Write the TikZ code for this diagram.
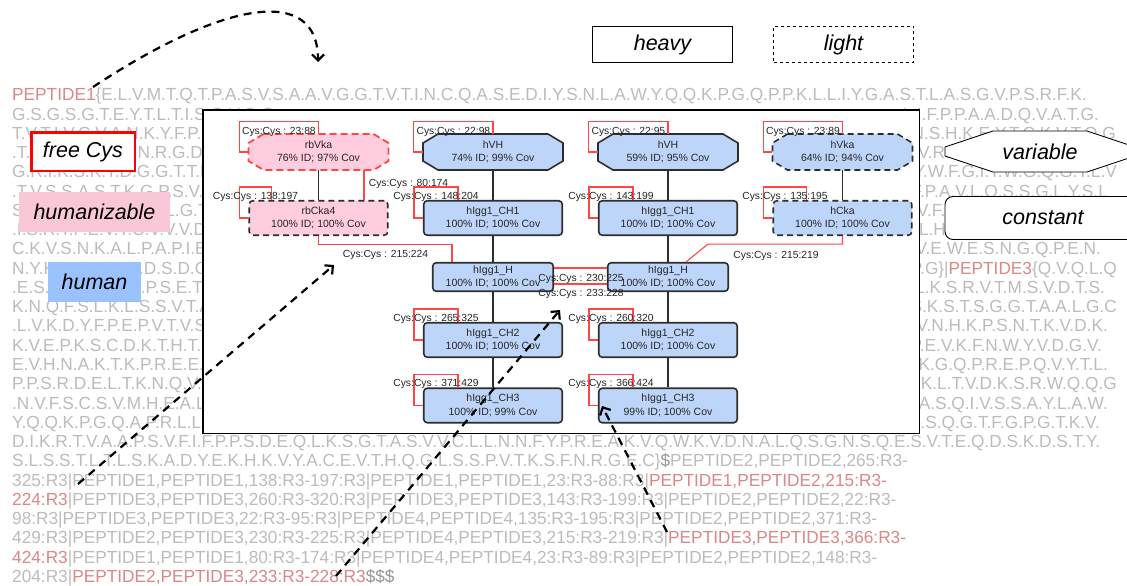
\documentclass[tikz,border=0pt]{standalone}
\usepackage{fontspec}
\setmainfont{Liberation Sans}
\newfontfamily\seqfont{Liberation Sans}[FakeStretch=0.986]
\usetikzlibrary{arrows.meta}
\definecolor{seqgray}{RGB}{188,188,188}
\definecolor{seqred}{RGB}{218,136,136}
\definecolor{dollar}{RGB}{150,150,150}
\definecolor{pinkfill}{RGB}{255,205,221}
\definecolor{bluefill}{RGB}{190,213,250}
\definecolor{legpink}{RGB}{249,199,214}
\definecolor{legblue}{RGB}{153,194,255}
\definecolor{cysred}{RGB}{255,70,70}
\definecolor{edgegray}{RGB}{45,45,45}
\tikzset{
  seq/.style={anchor=base west, inner sep=0pt, text=seqgray, font=\seqfont\fontsize{17.5}{19}\selectfont},
  seqr/.style={seq, anchor=base east},
  dom/.style={draw=edgegray, line width=1.6pt, rounded corners=3.5pt, inner sep=0pt, align=center, text=black!85, font=\fontsize{10.5}{13.3}\selectfont, minimum width=138.5pt, minimum height=34.5pt},
  hinge/.style={dom, minimum width=120.5pt, minimum height=28.5pt},
  domdash/.style={dash pattern=on 6pt off 4pt},
  octa/.style n args={3}{inner sep=0pt, align=center, path picture={
     \path[#1] ([shift={(#2+1.5pt,-1.5pt)}]path picture bounding box.north west)
       -- ([shift={(-#2-1.5pt,-1.5pt)}]path picture bounding box.north east)
       -- ([shift={(-1.5pt,-#3-1.5pt)}]path picture bounding box.north east)
       -- ([shift={(-1.5pt,#3+1.5pt)}]path picture bounding box.south east)
       -- ([shift={(-#2-1.5pt,1.5pt)}]path picture bounding box.south east)
       -- ([shift={(#2+1.5pt,1.5pt)}]path picture bounding box.south west)
       -- ([shift={(1.5pt,#3+1.5pt)}]path picture bounding box.south west)
       -- ([shift={(1.5pt,-#3-1.5pt)}]path picture bounding box.north west)
       -- cycle;}},
  vtext/.style={minimum width=143pt, minimum height=39pt, text=black!85, font=\fontsize{10.5}{13.3}\selectfont},
  voctB/.style={octa={fill=bluefill, draw=edgegray, line width=1.6pt}{15pt}{9pt}, vtext},
  voctBd/.style={octa={fill=bluefill, draw=edgegray, line width=1.6pt, dash pattern=on 6pt off 4pt}{15pt}{9pt}, vtext},
  voctP/.style={octa={fill=pinkfill, draw=cysred, line width=1.8pt, dash pattern=on 7pt off 4pt}{15pt}{9pt}, vtext},
  cys/.style={draw=cysred, line width=1.1pt},
  cyslab/.style={inner sep=0pt, text=black!85, font=\fontsize{10.3}{12}\selectfont},
  chainline/.style={draw=edgegray, line width=1.6pt},
  darrow/.style={draw=black, line width=2.2pt, dash pattern=on 8pt off 6pt, -{Straight Barb[length=6pt,width=12pt]}},
  leg/.style={inner sep=0pt, font=\itshape\fontsize{21.5}{24}\selectfont}
}
\newcommand\cysloopR[3]{\draw[cys] ([xshift=#2pt]#1.north west) -- ++(0,-13) -| node[pos=0.25,cyslab,yshift=-10pt]{Cys:Cys : #3} ([xshift=-9pt]#1.west) -- (#1.west);}
\newcommand\cysloopO[2]{\draw[cys] ([yshift=-1.5pt]#1.north) -- ++(0,-12) -| node[pos=0.25,cyslab,yshift=-9.7pt]{Cys:Cys : #2} ([xshift=-7.5pt]#1.west) -- ([xshift=1.5pt]#1.west);}
\begin{document}
\begin{tikzpicture}[x=1pt,y=-1pt]
\useasboundingbox (0,0) rectangle (1127,586);
\fill[white] (0,0) rectangle (1127,586);
% ---------- sequence text ----------
\node[seq] (s1) at (12,100.7) {\textcolor{seqred}{PEPTIDE1}\{E.L.V.M.T.Q.T.P.A.S.V.S.A.A.V.G.G.T.V.T.I.N.C.Q.A.S.E.D.I.Y.S.N.L.A.W.Y.Q.Q.K.P.G.Q.P.P.K.L.L.I.Y.G.A.S.T.L.A.S.G.V.P.S.R.F.K.};
\node[seq] (s2a) at (12,120.0) {G.S.G.S.G.T.E.Y.T.L.T.I.S.G.V.Q.C};
\node[seqr] (s2b) at (1099,120.0) {L.I.F.P.P.A.A.D.Q.V.A.T.G.};
\node[seq] (s3a) at (12,139.2) {T.V.T.I.V.C.V.A.N.K.Y.F.P.D.V.T};
\node[seqr] (s3b) at (1116,139.2) {Y.N.S.H.K.E.Y.T.C.K.V.T.Q.G};
\node[seq] (s4a) at (12,158.5) {.T.T.S.V.V.Q.S.F.N.R.G.D.C};
\node[seq] (s4b) at (913,158.5) {.V.R.Q.A.P.G.K};
\node[seq] (s5a) at (12,177.8) {G.R.I.K.S.K.T.D.G.G.T.T.D.Y};
\node[seqr] (s5b) at (1117,177.8) {Y.W.F.G.I.T.W.G.Q.G.T.L.V};
\node[seq] (s6a) at (12,197.1) {.T.V.S.S.A.S.T.K.G.P.S.V.F.P};
\node[seqr] (s6b) at (1108,197.1) {F.P.A.V.L.Q.S.S.G.L.Y.S.L};
\node[seq] (s7a) at (12,216.3) {S.S.V.V.T.V.P.S.S.S.L.G.T.Q.T};
\node[seq] (s7b) at (917,216.3) {V.F.L.F.P.P.K};
\node[seq] (s8a) at (12,235.6) {.I.S.R.T.P.E.V.T.C.V.V.V.D.V.S};
\node[seq] (s8b) at (914,235.6) {.L.H.Q.D.W};
\node[seq] (s9a) at (12,254.9) {C.K.V.S.N.K.A.L.P.A.P.I.E.K.T};
\node[seqr] (s9b) at (1101,254.9) {A.V.E.W.E.S.N.G.Q.P.E.N.};
\node[seq] (s10a) at (12,274.1) {N.Y.K.T.T.P.P.V.L.D.S.D.G.S.F};
\node[seqr] (s10b) at (1117,274.1) {P.G\}|\textcolor{seqred}{PEPTIDE3}\{Q.V.Q.L.Q};
\node[seq] (s11a) at (12,293.4) {.E.S.G.P.G.L.V.K.P.S.E.T.L.S};
\node[seqr] (s11b) at (1105,293.4) {L.K.S.R.V.T.M.S.V.D.T.S.};
\node[seq] (s12a) at (12,312.7) {K.N.Q.F.S.L.K.L.S.S.V.T.A.A.D};
\node[seqr] (s12b) at (1117,312.7) {S.K.S.T.S.G.G.T.A.A.L.G.C};
\node[seq] (s13a) at (12,331.9) {.L.V.K.D.Y.F.P.E.P.V.T.V.S.W};
\node[seqr] (s13b) at (1108,331.9) {N.V.N.H.K.P.S.N.T.K.V.D.K.};
\node[seq] (s14a) at (12,351.2) {K.V.E.P.K.S.C.D.K.T.H.T.C.P.P};
\node[seqr] (s14b) at (1102,351.2) {P.E.V.K.F.N.W.Y.V.D.G.V.};
\node[seq] (s15a) at (12,370.5) {E.V.H.N.A.K.T.K.P.R.E.E.Q.Y.N};
\node[seqr] (s15b) at (1108,370.5) {A.K.G.Q.P.R.E.P.Q.V.Y.T.L.};
\node[seq] (s16a) at (12,389.8) {P.P.S.R.D.E.L.T.K.N.Q.V.S.L.T};
\node[seqr] (s16b) at (1117,389.8) {S.K.L.T.V.D.K.S.R.W.Q.Q.G};
\node[seq] (s17a) at (12,409.0) {.N.V.F.S.C.S.V.M.H.E.A.L.H.N};
\node[seqr] (s17b) at (1108,409.0) {R.A.S.Q.I.V.S.S.A.Y.L.A.W.};
\node[seq] (s18a) at (12,428.3) {Y.Q.Q.K.P.G.Q.A.P.R.L.L.I.Y.G};
\node[seqr] (s18b) at (1100,428.3) {C.S.S.Q.G.T.F.G.P.G.T.K.V.};
\node[seq] (s19) at (12,447.6) {D.I.K.R.T.V.A.A.P.S.V.F.I.F.P.P.S.D.E.Q.L.K.S.G.T.A.S.V.V.C.L.L.N.N.F.Y.P.R.E.A.K.V.Q.W.K.V.D.N.A.L.Q.S.G.N.S.Q.E.S.V.T.E.Q.D.S.K.D.S.T.Y.};
\node[seq] (s20) at (12,466.8) {S.L.S.S.T.L.T.L.S.K.A.D.Y.E.K.H.K.V.Y.A.C.E.V.T.H.Q.G.L.S.S.P.V.T.K.S.F.N.R.G.E.C\}\textcolor{dollar}{\$}PEPTIDE2,PEPTIDE2,265:R3-};
\node[seq] (s21) at (12,486.1) {325:R3|PEPTIDE1,PEPTIDE1,138:R3-197:R3|PEPTIDE1,PEPTIDE1,23:R3-88:R3|\textcolor{seqred}{PEPTIDE1,PEPTIDE2,215:R3-}};
\node[seq] (s22) at (12,505.4) {\textcolor{seqred}{224:R3}|PEPTIDE3,PEPTIDE3,260:R3-320:R3|PEPTIDE3,PEPTIDE3,143:R3-199:R3|PEPTIDE2,PEPTIDE2,22:R3-};
\node[seq] (s23) at (12,524.7) {98:R3|PEPTIDE3,PEPTIDE3,22:R3-95:R3|PEPTIDE4,PEPTIDE4,135:R3-195:R3|PEPTIDE2,PEPTIDE2,371:R3-};
\node[seq] (s24) at (12,543.9) {429:R3|PEPTIDE2,PEPTIDE3,230:R3-225:R3|PEPTIDE4,PEPTIDE3,215:R3-219:R3|\textcolor{seqred}{PEPTIDE3,PEPTIDE3,366:R3-}};
\node[seq] (s25) at (12,563.2) {\textcolor{seqred}{424:R3}|PEPTIDE1,PEPTIDE1,80:R3-174:R3|PEPTIDE4,PEPTIDE4,23:R3-89:R3|PEPTIDE2,PEPTIDE2,148:R3-};
\node[seq] (s26) at (12,582.5) {204:R3|\textcolor{seqred}{PEPTIDE2,PEPTIDE3,233:R3-228:R3}\textcolor{dollar}{\$\$\$}};
% ---------- legends ----------
\node[leg, draw=black, line width=0.8pt, fill=white, minimum width=140pt, minimum height=36pt] (legheavy) at (662.5,44.5) {heavy};
\node[leg, draw=black, line width=0.8pt, dashed, fill=white, minimum width=140pt, minimum height=36pt] (leglight) at (843.5,44.5) {light};
\node[leg, draw=red, line width=2.5pt, fill=white, minimum width=103.5pt, minimum height=38.5pt] (legfree) at (83,151.5) {free Cys};
\node[leg, fill=legpink, minimum width=151pt, minimum height=40pt] (leghumz) at (94.5,212) {humanizable};
\node[leg, fill=legblue, minimum width=93pt, minimum height=40pt] (leghum) at (94.5,282) {human};
\node[leg, octa={fill=white, draw=black, line width=0.9pt}{48pt}{16pt}, minimum width=193pt, minimum height=44pt] (legvar) at (1040,151.5) {variable};
\node[leg, draw=black, line width=0.9pt, fill=white, rounded corners=8pt, minimum width=196pt, minimum height=43pt] (legconst) at (1043,218) {constant};
% ---------- panel ----------
\node[draw=black, line width=1.5pt, fill=white, minimum width=716.5pt, minimum height=323.5pt, inner sep=0pt] (panel) at (561,271.5) {};
% ---------- domain nodes ----------
\node[voctP] (v1) at (318.5,152) {rbVka\\76\% ID; 97\% Cov};
\node[dom, domdash, fill=pinkfill] (r1) at (318.5,218) {rbCka4\\100\% ID; 100\% Cov};
\node[voctB] (v2) at (493,152) {hVH\\74\% ID; 99\% Cov};
\node[dom, fill=bluefill] (c2a) at (493,218) {hIgg1\_CH1\\100\% ID; 100\% Cov};
\node[hinge, fill=bluefill] (h2) at (493,277) {hIgg1\_H\\100\% ID; 100\% Cov};
\node[dom, fill=bluefill] (c2b) at (493,340) {hIgg1\_CH2\\100\% ID; 100\% Cov};
\node[dom, fill=bluefill] (c2c) at (493,405.5) {hIgg1\_CH3\\100\% ID; 99\% Cov};
\node[voctB] (v3) at (668,152) {hVH\\59\% ID; 95\% Cov};
\node[dom, fill=bluefill] (c3a) at (668,218) {hIgg1\_CH1\\100\% ID; 100\% Cov};
\node[hinge, fill=bluefill] (h3) at (668,277) {hIgg1\_H\\100\% ID; 100\% Cov};
\node[dom, fill=bluefill] (c3b) at (668,340) {hIgg1\_CH2\\100\% ID; 100\% Cov};
\node[dom, fill=bluefill] (c3c) at (668,405.5) {hIgg1\_CH3\\99\% ID; 100\% Cov};
\node[voctBd] (v4) at (842.5,152) {hVka\\64\% ID; 94\% Cov};
\node[dom, domdash, fill=bluefill] (r4) at (842.5,218) {hCka\\100\% ID; 100\% Cov};
% ---------- chain connectors ----------
\draw[chainline, shorten <=-1.5pt] (v1) -- (r1);
\draw[chainline, shorten <=-1.5pt] (v2) -- (c2a);
\draw[chainline] (c2a) -- (h2) -- (c2b) -- (c2c);
\draw[chainline, shorten <=-1.5pt] (v3) -- (c3a);
\draw[chainline] (c3a) -- (h3) -- (c3b) -- (c3c);
\draw[chainline, shorten <=-1.5pt] (v4) -- (r4);
% ---------- disulfide loops ----------
\cysloopO{v1}{23:88}
\cysloopR{r1}{23}{138:197}
\cysloopO{v2}{22:98}
\cysloopR{c2a}{35}{148:204}
\cysloopR{c2b}{35}{265:325}
\cysloopR{c2c}{35}{371:429}
\cysloopO{v3}{22:95}
\cysloopR{c3a}{35}{143:199}
\cysloopR{c3b}{35}{260:320}
\cysloopR{c3c}{35}{366:424}
\cysloopO{v4}{23:89}
\cysloopR{r4}{34}{135:195}
% ---------- inter-domain disulfides ----------
\draw[cys] ([shift={(45.5pt,1.5pt)}]v1.south) -- ([xshift=45.5pt]r1.north);
\node[cyslab] (l80) at (408.5,184) {Cys:Cys : 80:174};
\draw[cys] (r1.south) -- ++(0,8) -| ([xshift=-41pt]h2.north);
\node[cyslab] (l215a) at (385.5,255) {Cys:Cys : 215:224};
\draw[cys] ([yshift=9pt]h2.east) -- ([yshift=9pt]h3.west);
\draw[cys] ([yshift=-7pt]h2.east) -- ([yshift=-7pt]h3.west);
\node[cyslab] (l230) at (581,279) {Cys:Cys : 230:225};
\node[cyslab] (l233) at (581,294) {Cys:Cys : 233:228};
\draw[cys] (r4.south) -- ++(0,8) -- ++(-134.5,0) -- ([xshift=18pt]h3.north);
\node[cyslab] (l215b) at (776,256) {Cys:Cys : 215:219};
% ---------- dashed arrows ----------
\coordinate (a1s) at (93,87);
\coordinate (a1e) at (318,62);
\coordinate (a2s) at (78,484);
\coordinate (a2e) at (334,265);
\coordinate (a3s) at (336,576);
\coordinate (a3e) at (560,310);
\coordinate (a4s) at (667,532);
\coordinate (a4e) at (602,406);
\draw[darrow] (a1s) .. controls (225,0) and (318,-15) .. (a1e);
\draw[darrow] (a2s) -- (a2e);
\draw[darrow] (a3s) -- (a3e);
\draw[darrow] (a4s) -- (a4e);
\end{tikzpicture}
\end{document}
